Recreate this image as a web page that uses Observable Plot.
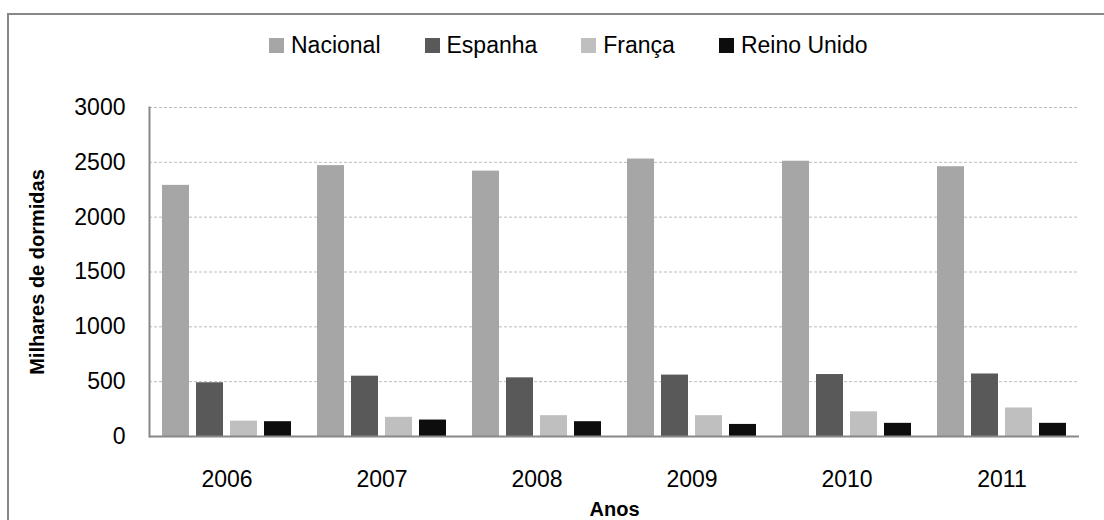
<!DOCTYPE html>
<html>
<head>
<meta charset="utf-8">
<script src="https://cdn.jsdelivr.net/npm/d3@7"></script>
<script src="https://cdn.jsdelivr.net/npm/@observablehq/plot@0.6"></script>
<style>
  html, body { margin: 0; padding: 0; background: #fff; overflow: hidden; width: 1104px; height: 520px; }
  #wrap { position: relative; width: 1104px; height: 520px; font-family: "Liberation Sans", Arial, sans-serif; }
  #border { position: absolute; left: 7px; top: 13px; width: 1300px; height: 700px; border: 2px solid #888; pointer-events: none; z-index: 5; }
  #legend { height: 90px; display: flex; align-items: center; padding-left: 269px; box-sizing: border-box; font-size: 23px; color: #000; }
  .item { display: flex; align-items: center; margin-right: 44px; }
  .sw { width: 15px; height: 15px; margin-right: 7px; }
  #chart svg g[aria-label$="axis label"] text { font-weight: bold; font-size: 20px; }
</style>
</head>
<body>
<div id="wrap">
  <div id="border"></div>
  <div id="legend"></div>
  <div id="chart"></div>
</div>
<script>
const years = ["2006", "2007", "2008", "2009", "2010", "2011"];
const series = ["Nacional", "Espanha", "França", "Reino Unido"];
const nacional = [2290, 2470, 2420, 2530, 2510, 2460];
const espanha = [490, 550, 535, 560, 565, 570];
const franca = [140, 175, 190, 190, 225, 260];
const reinoUnido = [135, 150, 135, 110, 120, 120];
const colors = ["#a6a6a6", "#595959", "#bfbfbf", "#0d0d0d"];
const yTicks = [0, 500, 1000, 1500, 2000, 2500, 3000];
const gridTicks = [500, 1000, 1500, 2000, 2500, 3000];
const yTitle = "Milhares de dormidas";
const xTitle = "Anos";

const valuesBySeries = [nacional, espanha, franca, reinoUnido];
const data = [];
years.forEach((yr, i) => {
  series.forEach((s, j) => {
    data.push({year: yr, series: s, value: valuesBySeries[j][i]});
  });
});

// Legend
const legend = document.getElementById("legend");
series.forEach((s, j) => {
  const it = document.createElement("div");
  it.className = "item";
  const sw = document.createElement("span");
  sw.className = "sw";
  sw.style.background = colors[j];
  const tx = document.createElement("span");
  tx.textContent = s;
  it.appendChild(sw);
  it.appendChild(tx);
  legend.appendChild(it);
});

const chart = Plot.plot({
  width: 1104,
  height: 430,
  marginTop: 17,
  marginBottom: 84,
  marginLeft: 148,
  marginRight: 24,
  style: {fontSize: "23px", fontFamily: "'Liberation Sans', Arial, sans-serif", background: "transparent", color: "#000"},
  fx: {domain: years, padding: 0, label: xTitle, labelAnchor: "center", labelArrow: "none", labelOffset: 79, tickSize: 0, tickPadding: 34, axis: "bottom"},
  x: {domain: series, paddingInner: 0.2, paddingOuter: 0.318, axis: null},
  y: {domain: [0, 3000], ticks: yTicks, tickFormat: d => String(d), tickSize: 0, tickPadding: 24, label: yTitle, labelAnchor: "center", labelArrow: "none", labelOffset: 120},
  color: {domain: series, range: colors},
  marks: [
    Plot.ruleY(gridTicks, {stroke: "#bdbdbd", strokeDasharray: "3,2", strokeWidth: 1}),
    Plot.barY(data, {fx: "year", x: "series", y: "value", fill: "series"}),
    Plot.ruleY([0], {stroke: "#888", strokeWidth: 2}),
    Plot.frame({anchor: "left", facetAnchor: "left", stroke: "#888", strokeWidth: 2})
  ]
});
document.getElementById("chart").appendChild(chart);
</script>
</body>
</html>
